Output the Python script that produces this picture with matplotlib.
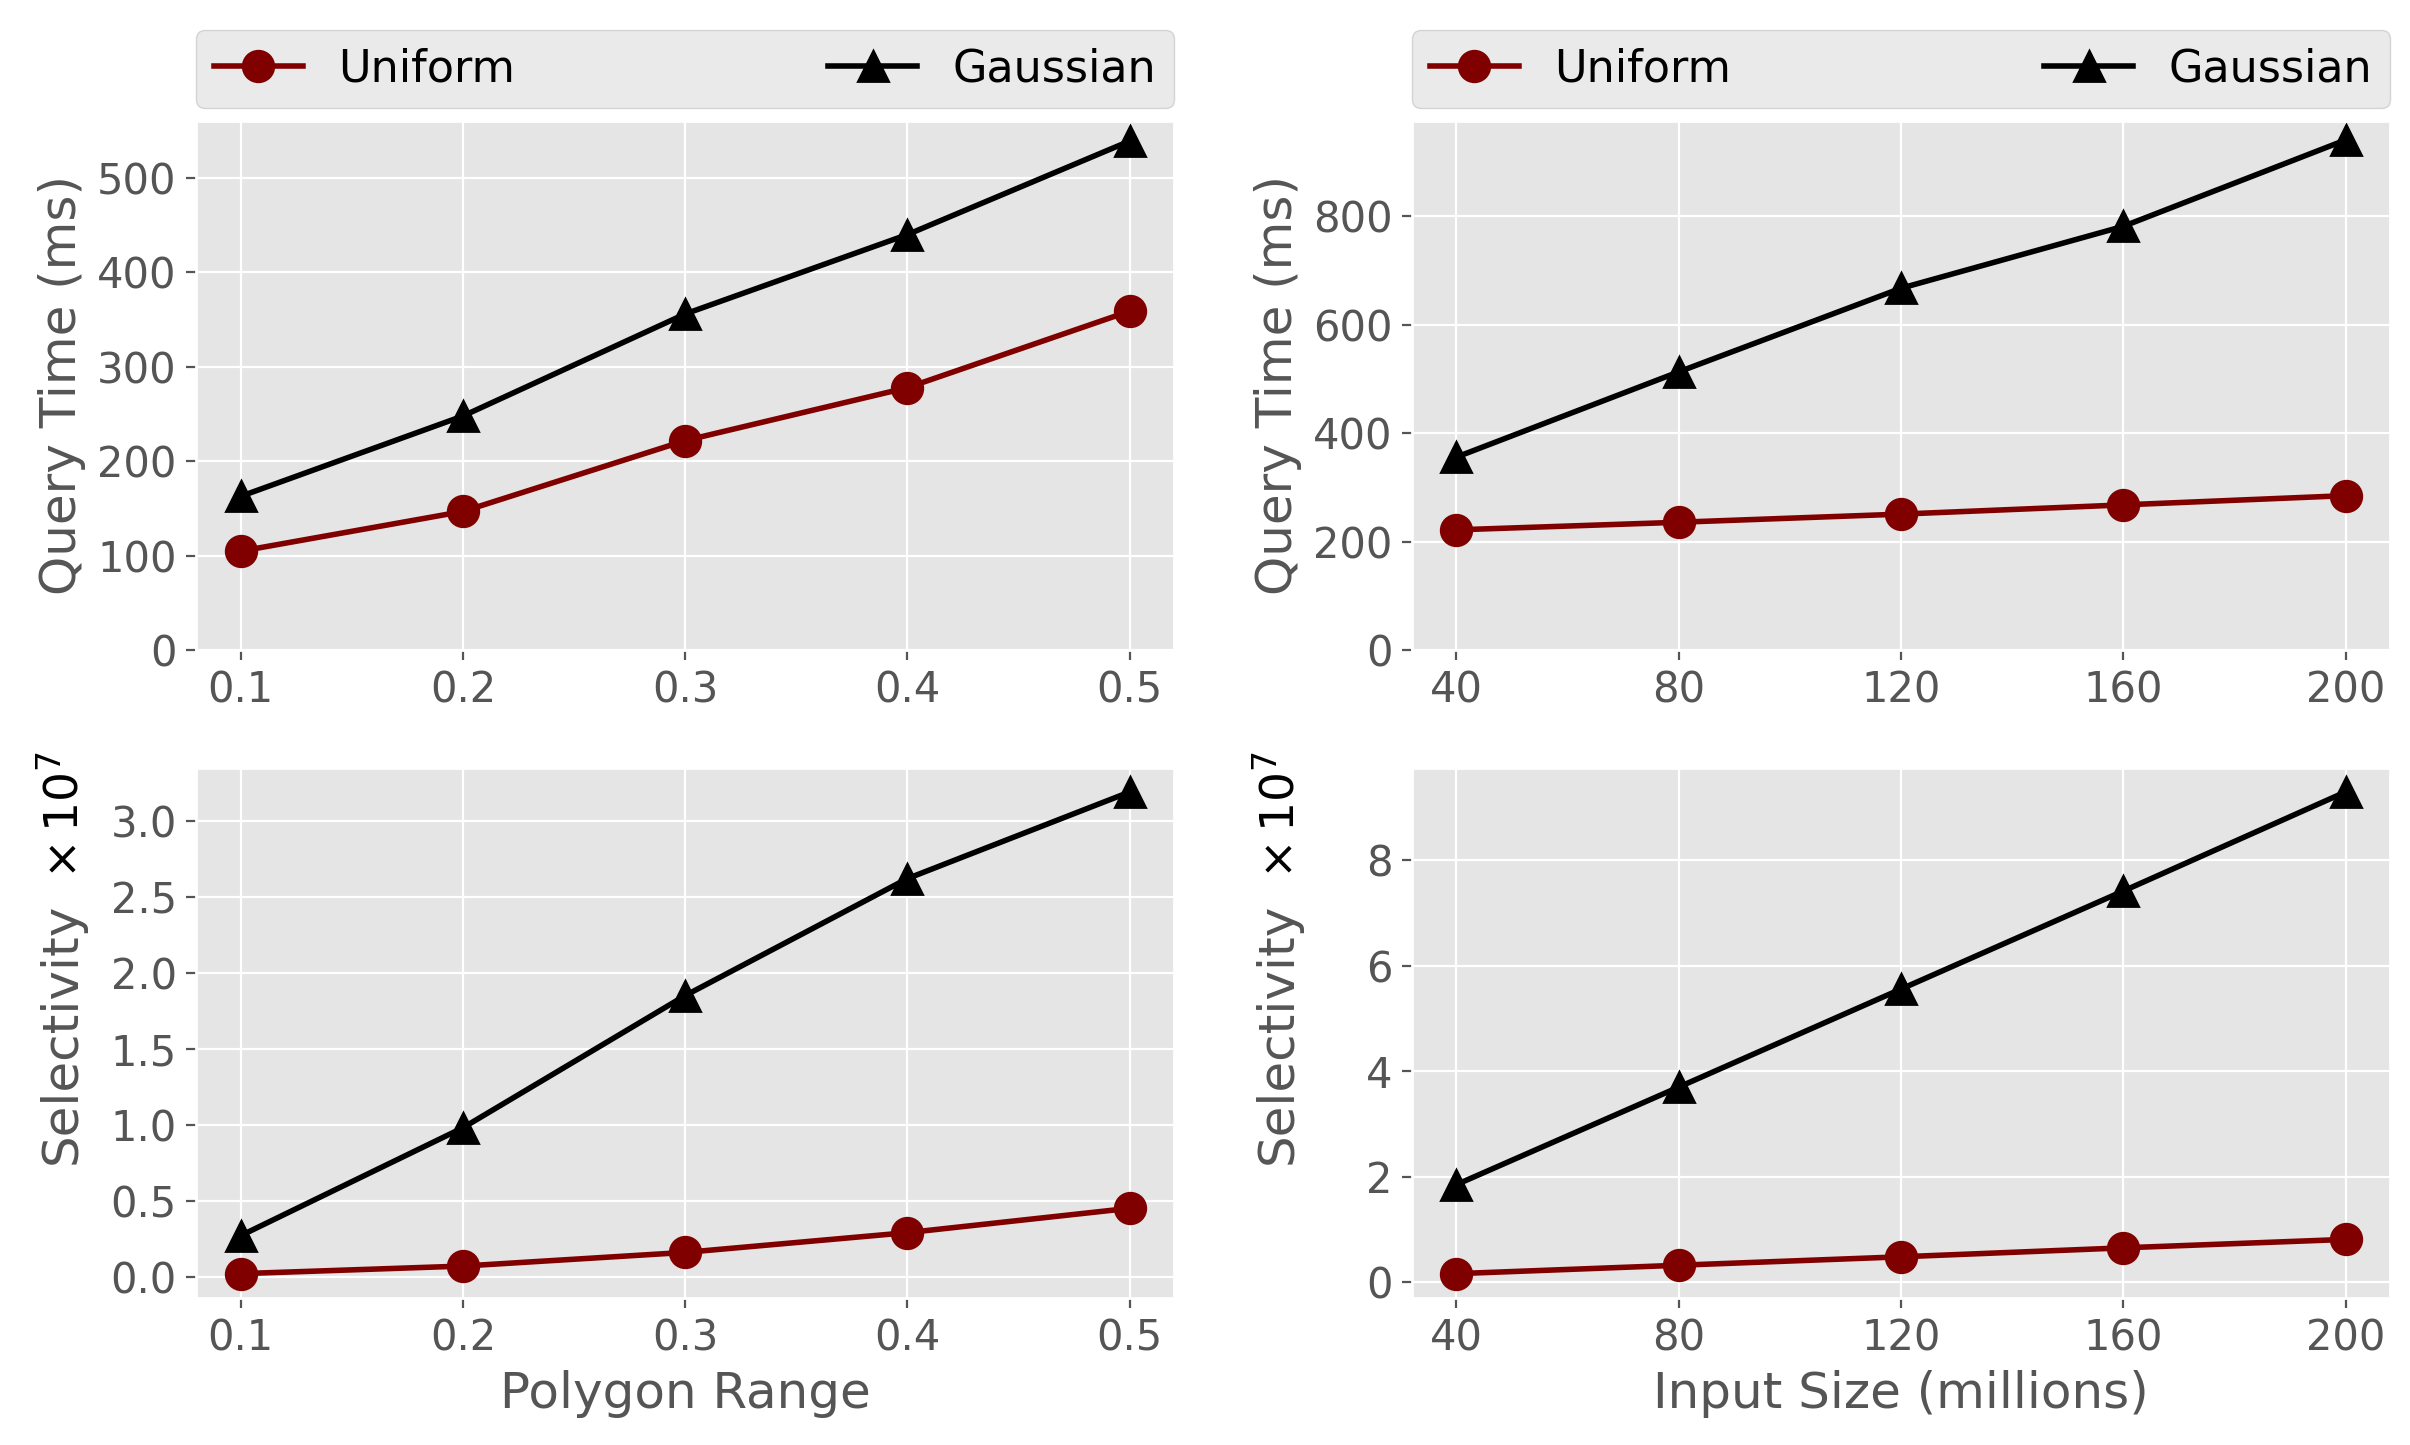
import matplotlib
matplotlib.use("Agg")
import matplotlib.pyplot as plt
import numpy as np

plt.style.use("ggplot")

polygon_range = [0.1, 0.2, 0.3, 0.4, 0.5]
input_size = [40, 80, 120, 160, 200]

qt_range_uniform = [105, 147, 222, 278, 359]
qt_range_gaussian = [163, 248, 356, 440, 539]
qt_size_uniform = [222, 236, 251, 268, 285]
qt_size_gaussian = [356, 513, 667, 781, 940]

sel_range_uniform = [0.02e7, 0.07e7, 0.16e7, 0.29e7, 0.45e7]
sel_range_gaussian = [0.27e7, 0.98e7, 1.85e7, 2.62e7, 3.19e7]
sel_size_uniform = [0.16e7, 0.32e7, 0.48e7, 0.65e7, 0.81e7]
sel_size_gaussian = [1.85e7, 3.70e7, 5.56e7, 7.42e7, 9.30e7]

range_ticks = ["0.1", "0.2", "0.3", "0.4", "0.5"]
size_ticks = ["40", "80", "120", "160", "200"]

W, H = 2410, 1445
dpi = 200
fig = plt.figure(figsize=(W / dpi, H / dpi), dpi=dpi)

L1, L2, AW = 0.0814, 0.5859, 0.4058
B1, B2, AH = 0.5499, 0.1019, 0.3667

ax_tl = fig.add_axes([L1, B1, AW, AH])
ax_tr = fig.add_axes([L2, B1, AW, AH])
ax_bl = fig.add_axes([L1, B2, AW, AH])
ax_br = fig.add_axes([L2, B2, AW, AH])

tick_fs = 15
label_fs = 18
legend_fs = 16
lw = 2
ms = 11

def plot_pair(ax, x, u, g):
    ax.plot(x, u, color="maroon", marker="o", lw=lw, ms=ms, label="Uniform")
    ax.plot(x, g, color="black", marker="^", lw=lw, ms=ms, label="Gaussian")
    ax.tick_params(labelsize=tick_fs)

plot_pair(ax_tl, polygon_range, qt_range_uniform, qt_range_gaussian)
plot_pair(ax_tr, input_size, qt_size_uniform, qt_size_gaussian)
plot_pair(ax_bl, polygon_range, sel_range_uniform, sel_range_gaussian)
plot_pair(ax_br, input_size, sel_size_uniform, sel_size_gaussian)

for ax in (ax_tl, ax_bl):
    ax.set_xticks(polygon_range)
    ax.set_xticklabels(range_ticks)
for ax in (ax_tr, ax_br):
    ax.set_xticks(input_size)
    ax.set_xticklabels(size_ticks)

ax_tl.set_ylim(bottom=0)
ax_tr.set_ylim(bottom=0)
ax_tl.set_yticks([0, 100, 200, 300, 400, 500])
ax_tr.set_yticks([0, 200, 400, 600, 800])

ax_tl.set_ylabel("Query Time (ms)", fontsize=label_fs)
ax_tr.set_ylabel("Query Time (ms)", fontsize=label_fs)
ax_bl.set_ylabel("Selectivity", fontsize=label_fs)
ax_br.set_ylabel("Selectivity", fontsize=label_fs)
ax_bl.set_xlabel("Polygon Range", fontsize=label_fs)
ax_br.set_xlabel("Input Size (millions)", fontsize=label_fs)

for ax in (ax_bl, ax_br):
    ax.yaxis.get_offset_text().set_visible(False)

ax_bl.set_yticks([0, 0.5e7, 1.0e7, 1.5e7, 2.0e7, 2.5e7, 3.0e7])
ax_bl.set_yticklabels(["0.0", "0.5", "1.0", "1.5", "2.0", "2.5", "3.0"])
ax_br.set_yticks([0, 2e7, 4e7, 6e7, 8e7])
ax_br.set_yticklabels(["0", "2", "4", "6", "8"])

for ax in (ax_tl, ax_tr):
    ax.legend(loc="lower left", bbox_to_anchor=(0, 1.023, 1, 0.15), mode="expand",
              ncol=2, borderaxespad=0, fontsize=legend_fs, framealpha=0.8,
              edgecolor="#cccccc")

# align bottom y-labels with the top ones
fig.canvas.draw()
r = fig.canvas.get_renderer()
for top, bot in ((ax_tl, ax_bl), (ax_tr, ax_br)):
    bb = top.yaxis.label.get_window_extent(r)
    xa = top.transAxes.inverted().transform((bb.x1, 0))[0]
    bot.yaxis.set_label_coords(xa, 0.5)

fig.canvas.draw()
inv = fig.transFigure.inverted()
for ax in (ax_bl, ax_br):
    bb = ax.yaxis.label.get_window_extent(r)
    (x0, y0), (x1, y1) = inv.transform([[bb.x0, bb.y0], [bb.x1, bb.y1]])
    fig.text((x0 + x1) / 2 + 0.001, y1 + 0.016, r"$\times\,10^7$", rotation=90,
             ha="center", va="bottom", fontsize=17, color="black")

fig.savefig("out.png", dpi=dpi)
